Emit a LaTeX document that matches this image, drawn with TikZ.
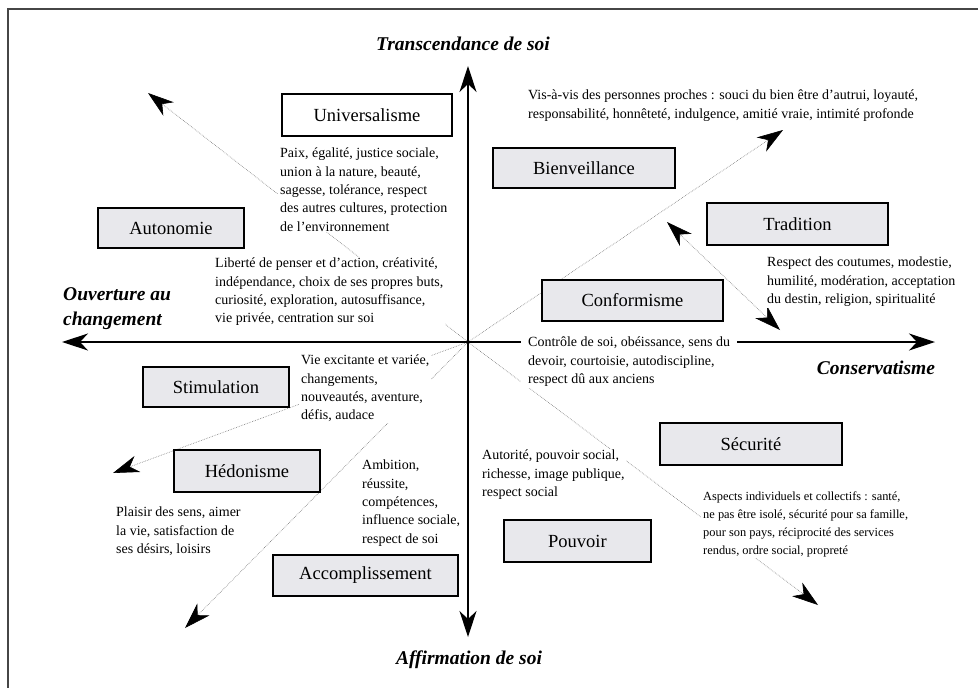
\documentclass[tikz,border=0pt]{standalone}
\usepackage{fontspec}
\setmainfont{Liberation Serif}
\usetikzlibrary{arrows.meta}
\definecolor{boxgray}{RGB}{232,232,236}
\definecolor{framegray}{RGB}{70,70,70}
\tikzset{
  lab/.style={draw=black, line width=1.1pt, fill=boxgray, inner sep=0pt, font=\fontsize{18.5}{21}\selectfont},
  desc/.style={align=left, fill=white, inner xsep=2pt, inner ysep=1pt, anchor=north west, font=\fontsize{14}{18.3}\selectfont},
  descsmall/.style={desc, font=\fontsize{12.4}{17.7}\selectfont},
  bigtip/.tip={Stealth[length=26pt,width=17pt,inset=8pt,color=black]},
  axisline/.style={line width=1.2pt, bigtip-bigtip},
  dotline/.style={draw=black!55, line width=0.6pt, dash pattern=on 0.6pt off 1.1pt},
  dotarrow/.style={dotline, -bigtip},
  ttl/.style={font=\fontsize{19.5}{25}\selectfont\bfseries\itshape, inner sep=0pt}
}
\begin{document}
\begin{tikzpicture}[x=1pt,y=-1pt]
\useasboundingbox (0,0) rectangle (978,688);
\fill[white] (0,0) rectangle (978,688);
% frame
\draw[framegray, line width=1.5pt] (8,688) -- (8,9) -- (978,9);

% coordinates
\coordinate (O) at (468,342);
\coordinate (ulT) at (148,93);
\coordinate (urT) at (783,130);
\coordinate (llaT) at (113,473);
\coordinate (llbT) at (185,628);
\coordinate (lrT) at (818,605);
\coordinate (trA) at (667,222);
\coordinate (trB) at (780,330);
\coordinate (axT) at (468,66);
\coordinate (axB) at (468,637);
\coordinate (axL) at (62,342);
\coordinate (axR) at (935,342);

% dotted arrows
\draw[dotarrow] (O) -- (ulT);
\draw[dotarrow] (O) -- (urT);
\draw[dotarrow] (O) -- (llaT);
\draw[dotarrow] (O) -- (llbT);
\draw[dotarrow] (O) -- (lrT);
\draw[dotline, bigtip-bigtip] (trA) -- (trB);

% axes
\draw[axisline] (axB) -- (axT);
\draw[axisline] (axL) -- (axR);

% axis titles
\node[ttl] (tTop) at (463,44) {Transcendance de soi};
\node[ttl] (tBot) at (469,660) {Affirmation de soi};
\node[ttl, align=left, anchor=west] (tLeft) at (63,309) {Ouverture au\\changement};
\node[ttl] (tRight) at (876,368) {Conservatisme};

% value boxes
\node[lab, fill=white, minimum width=170pt, minimum height=42pt] (univ) at (367,115) {Universalisme};
\node[lab, minimum width=146pt, minimum height=40pt] (auto) at (171,228) {Autonomie};
\node[lab, minimum width=182pt, minimum height=40pt] (bien) at (584,168) {Bienveillance};
\node[lab, minimum width=181pt, minimum height=42pt] (trad) at (797.5,224) {Tradition};
\node[lab, minimum width=181pt, minimum height=41pt] (conf) at (632.5,300.5) {Conformisme};
\node[lab, minimum width=146pt, minimum height=40pt] (stim) at (216,387) {Stimulation};
\node[lab, minimum width=146pt, minimum height=42pt] (hedo) at (247,471) {Hédonisme};
\node[lab, minimum width=185pt, minimum height=41pt] (acco) at (365.5,575.5) {Accomplissement};
\node[lab, minimum width=182pt, minimum height=42pt] (secu) at (751,444) {Sécurité};
\node[lab, minimum width=147pt, minimum height=42pt] (pouv) at (577.5,541) {Pouvoir};

% descriptions
\node[desc] (dUniv) at (278,147) {Paix, égalité, justice sociale,\\union à la nature, beauté,\\sagesse, tolérance, respect\\des autres cultures, protection\\de l’environnement};
\node[desc] (dBien) at (526,89) {Vis-à-vis des personnes proches : souci du bien être d’autrui, loyauté,\\responsabilité, honnêteté, indulgence, amitié vraie, intimité profonde};
\node[desc] (dAuto) at (213,257) {Liberté de penser et d’action, créativité,\\indépendance, choix de ses propres buts,\\curiosité, exploration, autosuffisance,\\vie privée, centration sur soi};
\node[desc] (dStim) at (299,354) {Vie excitante et variée,\\changements,\\nouveautés, aventure,\\défis, audace};
\node[desc] (dHedo) at (114,506) {Plaisir des sens, aimer\\la vie, satisfaction de\\ses désirs, loisirs};
\node[desc] (dAcco) at (360,459) {Ambition,\\réussite,\\compétences,\\influence sociale,\\respect de soi};
\node[desc] (dPouv) at (480,449) {Autorité, pouvoir social,\\richesse, image publique,\\respect social};
\node[descsmall] (dSecu) at (701,491) {Aspects individuels et collectifs : santé,\\ne pas être isolé, sécurité pour sa famille,\\pour son pays, réciprocité des services\\rendus, ordre social, propreté};
\node[desc] (dTrad) at (765,256) {Respect des coutumes, modestie,\\humilité, modération, acceptation\\du destin, religion, spiritualité};
\node[desc, inner xsep=7pt] (dConf) at (521,336) {Contrôle de soi, obéissance, sens du\\devoir, courtoisie, autodiscipline,\\respect dû aux anciens};
\end{tikzpicture}
\end{document}
